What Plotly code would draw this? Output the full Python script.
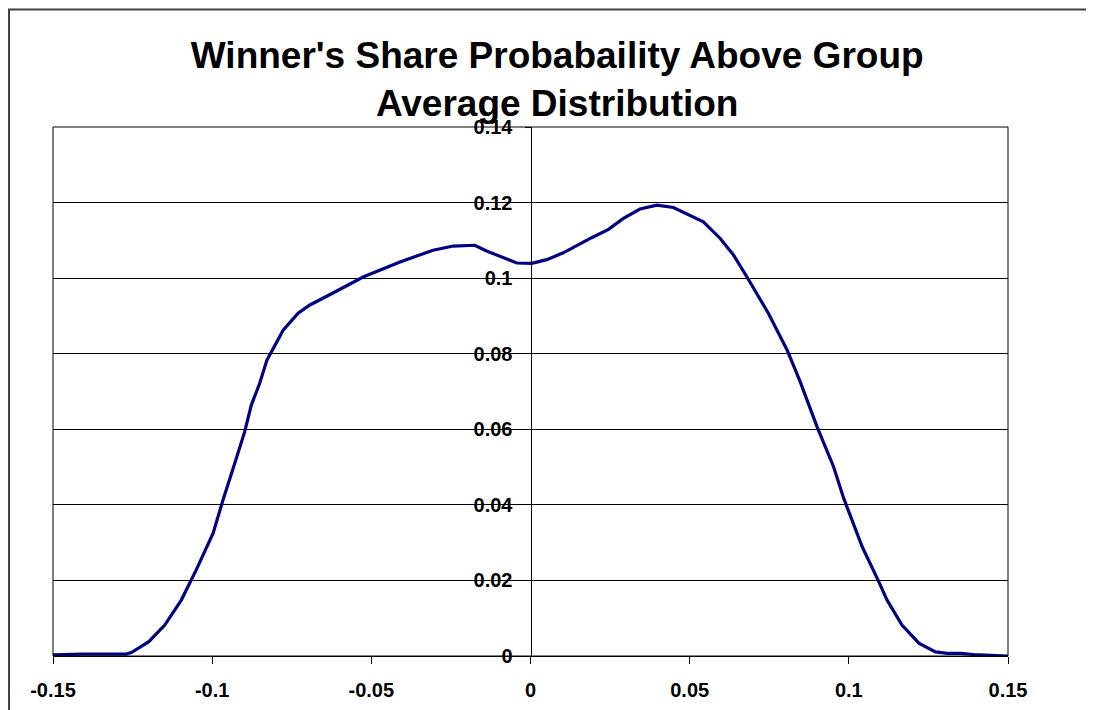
import plotly.graph_objects as go

# share above group average (x) vs probability (y)
share = [-0.15, -0.1406, -0.127, -0.1254, -0.1199, -0.1149, -0.1097, -0.105,
         -0.0997, -0.0966, -0.0929, -0.0898, -0.0877, -0.0851, -0.0828, -0.0798,
         -0.0777, -0.073, -0.0693, -0.0604, -0.0526, -0.041, -0.0306, -0.0243,
         -0.0175, -0.0138, -0.0096, -0.0043, 0.0004, 0.0051, 0.0103, 0.0145,
         0.0192, 0.0245, 0.0292, 0.0344, 0.0397, 0.0449, 0.0496, 0.0543,
         0.0596, 0.0638, 0.068, 0.0748, 0.0806, 0.0847, 0.09, 0.0952,
         0.0984, 0.1042, 0.1094, 0.112, 0.1167, 0.122, 0.1272, 0.1309, 0.1351,
         0.1392, 0.15]
prob = [0.0003, 0.0005, 0.0005, 0.0009, 0.0038, 0.0082, 0.0148, 0.0228,
        0.0325, 0.0413, 0.051, 0.0593, 0.0664, 0.0721, 0.0783, 0.0832,
        0.0862, 0.0907, 0.0929, 0.0968, 0.1003, 0.1043, 0.1074, 0.1085,
        0.1087, 0.1072, 0.1058, 0.104, 0.1039, 0.1049, 0.1067, 0.1087,
        0.1107, 0.1129, 0.1158, 0.1183, 0.1193, 0.1187, 0.1169, 0.1149,
        0.1105, 0.1061, 0.1003, 0.0906, 0.081, 0.0726, 0.0607, 0.0501,
        0.0417, 0.0289, 0.0197, 0.0148, 0.0082, 0.0034, 0.0011, 0.0007, 0.0007,
        0.0004, 0.0]

x_ticks = [-0.15, -0.1, -0.05, 0, 0.05, 0.1, 0.15]
x_labels = ["-0.15", "-0.1", "-0.05", "0", "0.05", "0.1", "0.15"]
y_ticks = [0, 0.02, 0.04, 0.06, 0.08, 0.1, 0.12, 0.14]
y_labels = ["0", "0.02", "0.04", "0.06", "0.08", "0.1", "0.12", "0.14"]

font = "Arial, Liberation Sans, sans-serif"

fig = go.Figure()
fig.add_trace(go.Scatter(x=share, y=prob, mode="lines",
                         line=dict(color="#000080", width=3.2),
                         showlegend=False, hoverinfo="x+y"))

# page body adds an 8px offset, so margins are shifted up/left to compensate
fig.update_layout(
    width=1094, height=710,
    margin=dict(l=45, r=94, t=119, b=62),
    paper_bgcolor="white", plot_bgcolor="white",
    font=dict(family=font, color="black"),
    title=dict(text="<b>Winner's Share Probabaility Above Group<br>Average Distribution</b>",
               font=dict(size=37, family=font, color="black"),
               x=0.502, xref="container", xanchor="center",
               y=0.916, yref="container", yanchor="middle"),
)

fig.update_xaxes(range=[-0.15, 0.15], tickvals=x_ticks, ticktext=x_labels,
                 showgrid=False, zeroline=False,
                 showline=True, linecolor="black", linewidth=1,
                 ticks="outside", ticklen=7, tickcolor="black",
                 ticklabelstandoff=9,
                 tickfont=dict(size=20, family=font, color="black", weight="bold"))

fig.update_yaxes(range=[0, 0.14], tickvals=y_ticks, ticktext=y_labels,
                 anchor="free", position=0.5,
                 showgrid=True, gridcolor="black", gridwidth=1, zeroline=False,
                 showline=True, linecolor="black", linewidth=1,
                 ticks="outside", ticklen=6, tickcolor="black",
                 ticklabelstandoff=8,
                 tickfont=dict(size=20, family=font, color="black", weight="bold"))

# plot area frame
fig.add_shape(type="rect", xref="paper", yref="paper", x0=0, x1=1, y0=0, y1=1,
              line=dict(color="black", width=1), layer="above")
# outer chart border (left and top edges visible)
fig.add_shape(type="rect", xref="paper", yref="paper",
              x0=-0.0461, x1=1.12, y0=-0.15, y1=1.222,
              line=dict(color="#404040", width=2), layer="above")

fig.write_html("out.html")
